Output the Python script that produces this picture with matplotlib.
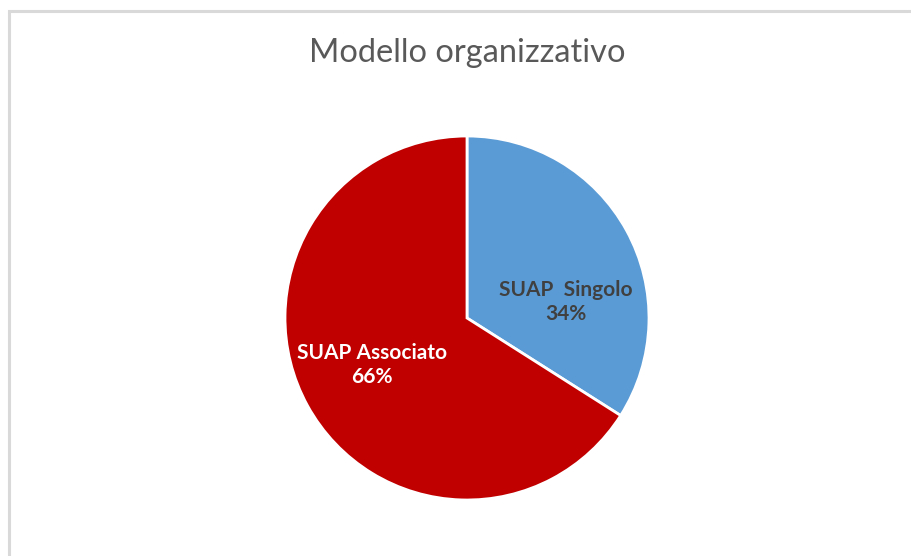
import matplotlib.pyplot as plt
from matplotlib.patches import Rectangle

# data
categories = ["SUAP  Singolo", "SUAP Associato"]
shares = [34, 66]
colors = ["#5B9BD5", "#C00000"]
label_colors = ["#404040", "white"]
# label anchor points (in pie radius units)
label_pos = [(0.544, 0.088), (-0.522, -0.258)]

plt.rcParams['font.family'] = ['Lato', 'DejaVu Sans']

fig = plt.figure(figsize=(9.12, 5.56), dpi=100)
fig.patch.set_facecolor('white')

# light frame of the chart area (left and top edges visible)
fig.patches.append(Rectangle((9.5/912, -0.05), 1.1, 1 - 11.5/556 + 0.05,
                             transform=fig.transFigure, fill=False,
                             edgecolor='#d9d9d9', linewidth=2.2))

# axes sized so that radius 1 = 182 px, centre at (467, 318) px from top
half = 200
ax = fig.add_axes([(467-half)/912, (556-318-half)/556, 2*half/912, 2*half/556])
wedges, _ = ax.pie(shares, colors=colors, startangle=90, counterclock=False,
                   wedgeprops=dict(edgecolor='white', linewidth=2))
lim = half/182
ax.set_xlim(-lim, lim)
ax.set_ylim(-lim, lim)
ax.set_aspect('equal')
ax.axis('off')

for name, v, (x, y), c in zip(categories, shares, label_pos, label_colors):
    ax.text(x, y, f"{name}\n{v}%", ha='center', va='center', color=c,
            fontsize=15, fontweight='bold', linespacing=1.3)

fig.text(467/912, 1 - 53/556, "Modello organizzativo", ha='center', va='center',
         fontsize=23.5, color='#595959')

fig.savefig('out.png', dpi=100)
